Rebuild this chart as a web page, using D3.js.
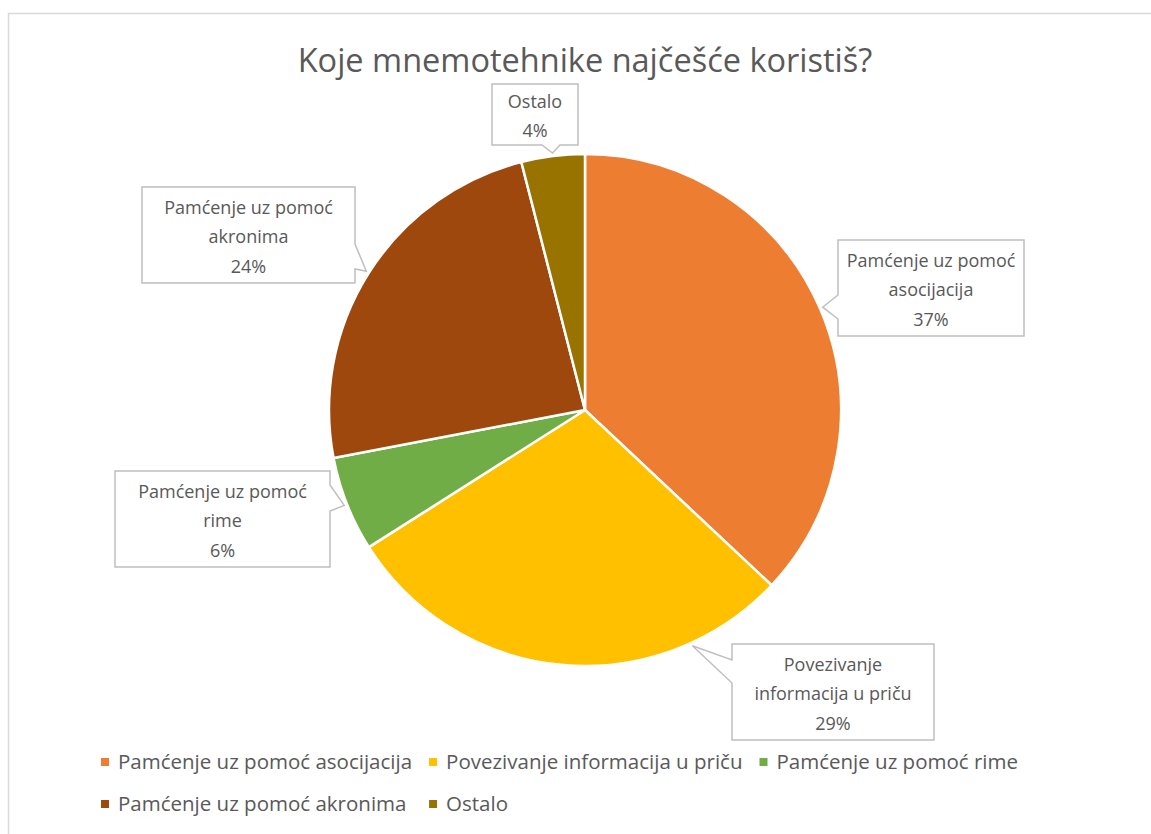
<!doctype html>
<html>
<head>
<meta charset="utf-8">
<title>Koje mnemotehnike najčešće koristiš?</title>
<style>
    body {
        margin: 0;
        overflow: hidden;
        background: #fff;
    }
    text {
        font-family: "Open Sans", sans-serif;
        fill: #595959;
    }
</style>
</head>
<body>
<script src="https://cdn.jsdelivr.net/npm/d3@7"></script>
<script>
const title = 'Koje mnemotehnike najčešće koristiš?';
const categories = [
    'Pamćenje uz pomoć asocijacija',
    'Povezivanje informacija u priču',
    'Pamćenje uz pomoć rime',
    'Pamćenje uz pomoć akronima',
    'Ostalo'
];
const values = [37, 29, 6, 24, 4];
const colors = ['#ED7D31', '#FFC000', '#70AD47', '#9E480E', '#997300'];

const width = 1151;
const height = 834;
const cx = 585, cy = 410, radius = 256;

// callout boxes (same order as categories); n0/n1 = where the pointer leaves the box edge
const callouts = [
    { x: 838, y: 240, w: 186, h: 96, side: 'left', n0: 295, n1: 319 },
    { x: 732, y: 644, w: 202, h: 96, side: 'left', n0: 660, n1: 683, angle: 155.5 },
    { x: 115, y: 471, w: 215, h: 96, side: 'right', n0: 485, n1: 511 },
    { x: 142, y: 187, w: 213, h: 96, side: 'right', n0: 244, n1: 269 },
    { x: 492, y: 84, w: 86, h: 61, side: 'bottom', n0: 542, n1: 560 }
];

const svg = d3.select('body')
    .append('svg')
    .attr('width', width)
    .attr('height', height);

// chart area border
svg.append('rect')
    .attr('x', 8.5)
    .attr('y', 13.5)
    .attr('width', width)
    .attr('height', height)
    .attr('fill', '#fff')
    .attr('stroke', '#d9d9d9')
    .attr('stroke-width', 1.5);

svg.append('text')
    .attr('x', 585)
    .attr('y', 72)
    .attr('text-anchor', 'middle')
    .style('font-size', '32.5px')
    .text(title);

const pie = d3.pie().sort(null).value(d => d);
const arcs = pie(values);
const arc = d3.arc().innerRadius(0).outerRadius(radius);

const g = svg.append('g').attr('transform', `translate(${cx},${cy})`);
g.selectAll('path')
    .data(arcs)
    .join('path')
    .attr('d', arc)
    .attr('fill', (d, i) => colors[i])
    .attr('stroke', '#fff')
    .attr('stroke-width', 2.5);

// wrap words to a max width
function wrap(str, maxW, size) {
    const probe = svg.append('text').style('font-size', size + 'px');
    const words = str.split(' ');
    const lines = [];
    let cur = '';
    words.forEach(w => {
        const test = cur ? cur + ' ' + w : w;
        probe.text(test);
        if (cur && probe.node().getComputedTextLength() > maxW) {
            lines.push(cur);
            cur = w;
        } else {
            cur = test;
        }
    });
    lines.push(cur);
    probe.remove();
    return lines;
}

const labelSize = 18;
const lh = 29.5;

arcs.forEach((a, i) => {
    const c = callouts[i];
    const ang = c.angle != null ? c.angle * Math.PI / 180 : (a.startAngle + a.endAngle) / 2;
    const tr = radius + 3;
    const tx = cx + tr * Math.sin(ang);
    const ty = cy - tr * Math.cos(ang);
    let p;
    if (c.side === 'left') {
        p = `M${c.x},${c.y}H${c.x + c.w}V${c.y + c.h}H${c.x}V${c.n1}L${tx},${ty}L${c.x},${c.n0}Z`;
    } else if (c.side === 'right') {
        p = `M${c.x},${c.y}H${c.x + c.w}V${c.n0}L${tx},${ty}L${c.x + c.w},${c.n1}V${c.y + c.h}H${c.x}Z`;
    } else {
        p = `M${c.x},${c.y}H${c.x + c.w}V${c.y + c.h}H${c.n1}L${tx},${ty}L${c.n0},${c.y + c.h}H${c.x}Z`;
    }
    svg.append('path')
        .attr('d', p)
        .attr('fill', '#fff')
        .attr('stroke', '#bfbfbf')
        .attr('stroke-width', 1.5)
        .attr('stroke-linejoin', 'miter');

    const lines = wrap(categories[i], 190, labelSize).concat([values[i] + '%']);
    const mid = c.y + c.h / 2;
    svg.append('text')
        .attr('text-anchor', 'middle')
        .style('font-size', labelSize + 'px')
        .selectAll('tspan')
        .data(lines)
        .join('tspan')
        .attr('x', c.x + c.w / 2)
        .attr('y', (d, k) => mid + (k - (lines.length - 1) / 2) * lh + 8)
        .text(d => d);
});

// legend, two rows on a shared column grid
const legendRows = [[0, 1, 2], [3, 4]];
const legendX = 101;
const legendY = [762, 804];
const legendSize = 20.5;
const colX = [legendX];
const probe = svg.append('text').style('font-size', legendSize + 'px');
legendRows[0].forEach((idx, k) => {
    probe.text(categories[idx]);
    colX.push(colX[k] + 17 + probe.node().getComputedTextLength() + 17);
});
probe.remove();

legendRows.forEach((row, r) => {
    row.forEach((idx, k) => {
        const lg = svg.append('g').attr('transform', `translate(${colX[k]},${legendY[r]})`);
        lg.append('rect')
            .attr('x', 0).attr('y', -4)
            .attr('width', 8).attr('height', 8)
            .attr('fill', colors[idx]);
        lg.append('text')
            .attr('x', 17).attr('y', 7)
            .style('font-size', legendSize + 'px')
            .text(categories[idx]);
    });
});
</script>
</body>
</html>
